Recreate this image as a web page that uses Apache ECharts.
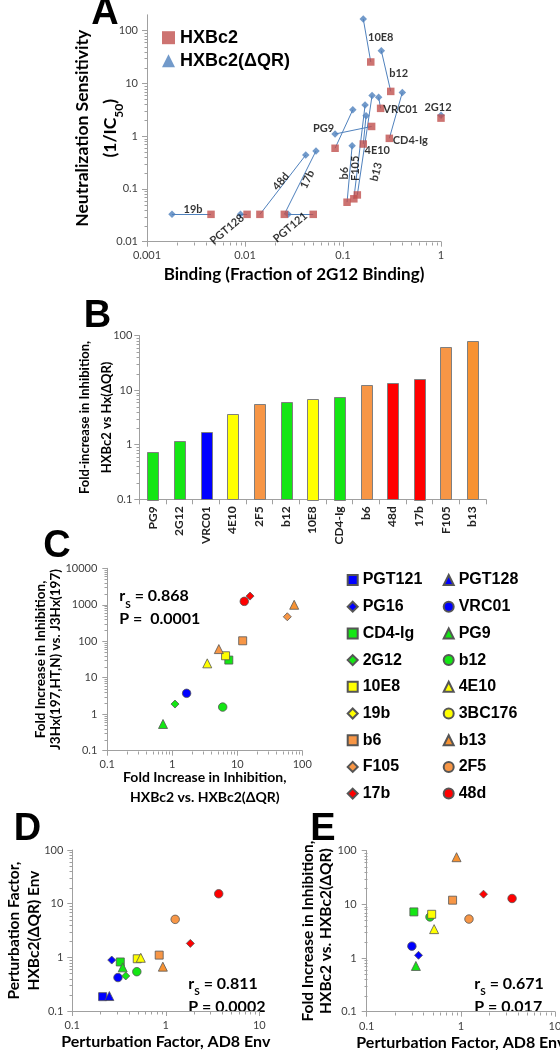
<!DOCTYPE html>
<html><head><meta charset="utf-8">
<script src="https://cdn.jsdelivr.net/npm/echarts@6.0.0/dist/echarts.min.js"></script>
<style>html,body{margin:0;padding:0;background:#fff;}#chart{width:560px;height:1050px;}</style>
</head><body><div id="chart"></div>
<script>
// ================= DATA =================
// Panel A: binding (fraction of 2G12 binding) vs neutralization sensitivity (1/IC50)
const abA      = ['19b','PGT128','48d','17b','PGT121','PG9','2F5','4E10','b6','F105','b13','VRC01','CD4-Ig','b12','10E8','2G12'];
const hxBindA  = [0.0045,0.0105,0.0142,0.0252,0.0497,0.196,0.083,0.161,0.110,0.129,0.140,0.242,0.297,0.307,0.192,1.0];
const hxSensA  = [0.033,0.033,0.033,0.033,0.033,1.53,0.59,0.71,0.056,0.065,0.077,3.37,0.91,7.06,25.5,2.2];
const dqBindA  = [0.0018,0.0090,0.0417,0.053,0.0275,0.083,0.126,0.172,0.124,0.168,0.198,0.231,0.403,0.246,0.161,1.0];
const dqSensA  = [0.033,0.033,0.44,0.525,0.033,1.1,3.18,2.45,0.66,3.9,5.9,5.45,6.76,41.8,167,2.5];
const seriesNamesA = ['HXBc2','HXBc2(ΔQR)'];

// Panel B: fold-increase in inhibition, HXBc2 vs Hx(ΔQR)
const catB  = ['PG9','2G12','VRC01','4E10','2F5','b12','10E8','CD4-Ig','b6','48d','17b','F105','b13'];
const foldB = [0.745,1.15,1.71,3.6,5.5,6.1,6.95,7.56,12.4,13.3,16.2,61.5,78];

// Panel C
const abC = ['PG9','2G12','VRC01','b12','4E10','2F5','10E8','CD4-Ig','b6','48d','17b','F105','b13'];
const xC  = [0.72,1.1,1.66,5.96,3.45,5.2,6.6,7.4,12.1,12.8,15.7,58.8,75];
const yC  = [0.54,1.9,3.74,1.57,24.8,61,40,30.5,103,1240,1730,469,1000];
const statsC = ['0.868','0.0001'];

// Panel D
const abD = ['PGT121','PGT128','PG16','VRC01','CD4-Ig','PG9','2G12','b12','10E8','4E10','b6','b13','2F5','17b','48d'];
const xD  = [0.211,0.249,0.264,0.308,0.326,0.346,0.373,0.49,0.495,0.54,0.85,0.93,1.26,1.83,3.68];
const yD  = [0.185,0.19,0.89,0.42,0.82,0.65,0.45,0.54,0.94,0.98,1.1,0.67,5.1,1.82,15.3];
const statsD = ['0.811','0.0002'];

// Panel E
const abE = ['CD4-Ig','b12','10E8','4E10','VRC01','PG16','PG9','b6','2F5','17b','48d','b13'];
const xE  = [0.317,0.47,0.49,0.52,0.302,0.355,0.333,0.817,1.22,1.74,3.5,0.9];
const yE  = [7.2,5.8,6.5,3.44,1.66,1.12,0.71,11.9,5.3,15.4,12.8,75];
const statsE = ['0.671','0.017'];

// Legend (C/D/E), two columns
const legendCol1 = ['PGT121','PG16','CD4-Ig','2G12','10E8','19b','b6','F105','17b'];
const legendCol2 = ['PGT128','VRC01','PG9','b12','4E10','3BC176','b13','2F5','48d'];

// Axis ranges / tick labels
const rangeA = {x:[0.001,1], y:[0.01,200]};
const ticksAy = [0.01,0.1,1,10,100];
const rangeB = {y:[0.1,100]};
const rangeC = {x:[0.1,100], y:[0.1,10000]};
const rangeD = {x:[0.1,10], y:[0.1,100]};
const rangeE = {x:[0.1,10], y:[0.1,100]};

// ================= STYLE =================
const FONT = 'Lato, "DejaVu Sans", sans-serif';
const AFONT = '"Liberation Sans", Arial, sans-serif';
const AX = '#a0a0a0', LAB = '#404040';
const BLUE='#0000FF', GREEN='#14E614', YEL='#FFFF00', ORG='#F79646', ORG2='#F79232', RED='#FF0000';
const STY = {
  'PGT121':['rect',BLUE], 'PGT128':['triangle',BLUE], 'PG16':['diamond',BLUE], 'VRC01':['circle',BLUE],
  'CD4-Ig':['rect',GREEN], 'PG9':['triangle',GREEN], '2G12':['diamond',GREEN], 'b12':['circle',GREEN],
  '10E8':['rect',YEL], '4E10':['triangle',YEL], '19b':['diamond',YEL], '3BC176':['circle',YEL],
  'b6':['rect',ORG], 'b13':['triangle',ORG2], 'F105':['diamond',ORG], '2F5':['circle',ORG],
  '17b':['diamond',RED], '48d':['circle',RED]
};
const ORDER = ['PGT121','PGT128','PG16','VRC01','CD4-Ig','PG9','2G12','b12','10E8','4E10','19b','3BC176','b6','b13','F105','2F5','17b','48d'];
const SIZE = {rect:8, circle:8.5, triangle:9, diamond:8};
const shapeOverrideC = {'2F5':'triangle'};
// label placement for panel A (screen offset from HXBc2 marker, rotation in degrees CCW)
const labA = {'19b':[-18,-5,0],'PGT128':[-20,15,40],'48d':[21,-33,50],'17b':[23,-35,65],'PGT121':[-23,13,40],
  'PG9':[-48,2,0],'4E10':[14,6,0],'b6':[-3,-29,90],'F105':[1.5,-30.5,90],'b13':[19,-23,75],
  'VRC01':[20,1,0],'CD4-Ig':[21,2,0],'b12':[8,-18,0],'10E8':[10,-25,0],'2G12':[-3,-11,0]};
// ECharts applies label offset in the rotated frame: convert screen offset to local offset
function localOffset(dx, dy, deg) {
  const r = deg * Math.PI / 180, c = Math.cos(r), s = Math.sin(r);
  return [c*dx - s*dy, s*dx + c*dy];
}

const fmt = v => { const n = Number(Number(v).toPrecision(6)); const l = Math.log10(n); return Math.abs(l-Math.round(l))<1e-6 ? String(n) : ''; };

function logAxis(gi, range, extra) {
  return Object.assign({
    type:'log', logBase:10, gridIndex:gi, min:range[0], max:range[1],
    axisLine:{show:true, onZero:false, lineStyle:{color:AX, width:1}},
    axisTick:{show:true, inside:false, length:5, lineStyle:{color:AX}},
    axisLabel:{color:LAB, fontFamily:FONT, fontSize:11, formatter:fmt, margin:8},
    splitLine:{show:false}, minorTick:{show:false}, minorSplitLine:{show:false},
    nameLocation:'middle', nameMoveOverlap:false
  }, extra || {});
}
function rich(size, lh, subSize) {
  return {
    t:{fontFamily:FONT, fontWeight:'bold', fontSize:size, lineHeight:lh, color:'#000'},
    s:{fontFamily:FONT, fontWeight:'bold', fontSize:subSize || Math.round(size*0.65), lineHeight:lh+5, verticalAlign:'bottom', color:'#000'}
  };
}
function minorVals(lo, hi) {
  const out = [];
  for (let e = Math.floor(Math.log10(lo)); Math.pow(10,e) < hi; e++)
    for (let m = 2; m <= 9; m++) { const v = Number((m*Math.pow(10,e)).toPrecision(3)); if (v > lo && v < hi) out.push(v); }
  return out;
}
function tickSeries(gi, xr, yr) {
  const data = [];
  if (xr) minorVals(xr[0], xr[1]).forEach(v => data.push([v, yr[0], 0]));
  minorVals(yr[0], yr[1]).forEach(v => data.push([xr ? xr[0] : 0, v, 1]));
  return {
    type:'custom', xAxisIndex:gi, yAxisIndex:gi, silent:true, clip:false, z:1, data,
    renderItem:(params, api) => {
      const cs = params.coordSys;
      const p = api.coord([api.value(0), api.value(1)]);
      if (api.value(2) === 1) {
        const x = Math.round(cs.x) + 0.5, y = Math.round(p[1]) + 0.5;
        return {type:'line', shape:{x1:x-3, y1:y, x2:x, y2:y}, style:{stroke:AX, lineWidth:1}};
      }
      const y = Math.round(cs.y + cs.height) + 0.5, x = Math.round(p[0]) + 0.5;
      return {type:'line', shape:{x1:x, y1:y, x2:x, y2:y+3}, style:{stroke:AX, lineWidth:1}};
    }
  };
}
function scatterPanel(gi, abs, xs, ys, overrides, keepEmpty) {
  return ORDER.map(name => {
    const data = [];
    abs.forEach((a,i) => {
      if (a !== name) return;
      const it = {value:[xs[i], ys[i]]};
      if (overrides && overrides[a]) { it.symbol = overrides[a]; it.symbolSize = SIZE[overrides[a]]; }
      data.push(it);
    });
    const sh = STY[name][0];
    return {type:'scatter', name, xAxisIndex:gi, yAxisIndex:gi, symbol:sh, symbolSize:SIZE[sh],
      itemStyle:{color:STY[name][1], borderColor:'#555', borderWidth:0.8, opacity:1},
      emphasis:{disabled:true}, silent:true, z:3, data};
  }).filter(s => keepEmpty || s.data.length);
}
function statText(x, y, vals, gap) {
  const b = {fontFamily:FONT, fontWeight:'bold', fontSize:16, lineHeight:20, color:'#000'};
  const s = {fontFamily:FONT, fontWeight:'bold', fontSize:10, lineHeight:26, verticalAlign:'bottom', color:'#000'};
  return {type:'text', x, y, silent:true, style:{
    text:'{b|r}{s|S}{b| = ' + vals[0] + '}\n{b|P =' + gap + vals[1] + '}', rich:{b, s}, verticalAlign:'top'}};
}
function letter(ch, x, y) {
  return {type:'text', x, y, silent:true, style:{text:ch, font:'bold 38px ' + AFONT, fill:'#000', align:'center', verticalAlign:'middle'}};
}

const chart = echarts.init(document.getElementById('chart'), null, {renderer:'canvas'});

const series = [];
// Panel A
series.push({type:'lines', coordinateSystem:'cartesian2d', xAxisIndex:0, yAxisIndex:0, silent:true, z:2,
  lineStyle:{color:'#4F81BD', width:1, opacity:1},
  data: abA.map((a,i) => ({coords:[[hxBindA[i], hxSensA[i]], [dqBindA[i], dqSensA[i]]]}))});
series.push({type:'scatter', name:seriesNamesA[1], xAxisIndex:0, yAxisIndex:0, symbol:'diamond', symbolSize:7.5,
  itemStyle:{color:'#4F81BD'}, silent:true, z:3, data: abA.map((a,i) => [dqBindA[i], dqSensA[i]])});
series.push({type:'scatter', name:seriesNamesA[0], xAxisIndex:0, yAxisIndex:0, symbol:'rect', symbolSize:7.5,
  itemStyle:{color:'#C0504D'}, silent:true, z:4,
  data: abA.map((a,i) => {
    const it = {value:[hxBindA[i], hxSensA[i]]};
    const L = labA[a];
    if (L) it.label = {show:true, position:'inside', formatter:a, offset:localOffset(L[0],L[1],L[2]), rotate:L[2],
      fontFamily:FONT, fontWeight:'bold', fontSize:11, color:'#000'};
    return it;
  })});
series.push(tickSeries(0, rangeA.x, rangeA.y));
// Panel B bars
series.push({type:'custom', xAxisIndex:1, yAxisIndex:1, silent:true, z:3,
  data: foldB.map((v,i) => [i, v]),
  renderItem:(params, api) => {
    const i = api.value(0), v = api.value(1);
    const top = api.coord([i, v]), base = api.coord([i, rangeB.y[0]]);
    const w = api.size([1, 1])[0] * 0.4;
    return {type:'rect', shape:{x:Math.round(top[0]-w/2)+0.5, y:Math.round(top[1])+0.5, width:Math.round(w), height:Math.round(base[1]-top[1])},
      style:{fill:STY[catB[i]][1], stroke:'#7f7f7f', lineWidth:1}};
  }});
series.push(tickSeries(1, null, rangeB.y));
// Panels C, D, E
series.push(...scatterPanel(2, abC, xC, yC, shapeOverrideC, true));
series.push(tickSeries(2, rangeC.x, rangeC.y));
series.push(...scatterPanel(3, abD, xD, yD, null, false));
series.push(tickSeries(3, rangeD.x, rangeD.y));
series.push(...scatterPanel(4, abE, xE, yE, null, false));
series.push(tickSeries(4, rangeE.x, rangeE.y));

const legTxt = {fontFamily:AFONT, fontWeight:'bold', fontSize:16, color:'#000', lineHeight:16};

chart.setOption({
  animation:false,
  backgroundColor:'#fff',
  grid:[
    {left:147, top:14.8, width:294, height:226.9, outerBoundsMode:'none', containLabel:false},
    {left:139.3, top:335.5, width:346.5, height:163.8, outerBoundsMode:'none', containLabel:false},
    {left:107.3, top:568.3, width:195, height:182.4, outerBoundsMode:'none', containLabel:false},
    {left:72.3, top:850, width:187, height:161, outerBoundsMode:'none', containLabel:false},
    {left:366.7, top:850.5, width:188.3, height:161.2, outerBoundsMode:'none', containLabel:false}
  ],
  xAxis:[
    logAxis(0, rangeA.x, {name:'Binding (Fraction of 2G12 Binding)', nameGap:23,
      nameTextStyle:{fontFamily:FONT, fontWeight:'bold', fontSize:17, lineHeight:20, color:'#000'}}),
    {type:'category', gridIndex:1, data:catB, boundaryGap:true,
      axisLine:{show:true, onZero:false, lineStyle:{color:AX}},
      axisTick:{show:true, length:5, interval:0, lineStyle:{color:AX}},
      axisLabel:{rotate:90, interval:0, margin:7, fontFamily:FONT, fontWeight:'bold', fontSize:12, color:'#222'},
      splitLine:{show:false}},
    logAxis(2, rangeC.x, {name:'Fold Increase in Inhibition,\nHXBc2 vs. HXBc2(ΔQR)', nameGap:17,
      nameTextStyle:{fontFamily:FONT, fontWeight:'bold', fontSize:14, lineHeight:20, color:'#000'}}),
    logAxis(3, rangeD.x, {name:'Perturbation Factor, AD8 Env', nameGap:22,
      axisLabel:{color:LAB, fontFamily:FONT, fontSize:11, formatter:fmt, margin:9},
      nameTextStyle:{fontFamily:FONT, fontWeight:'bold', fontSize:16, lineHeight:18, color:'#000'}}),
    logAxis(4, rangeE.x, {name:'Perturbation Factor, AD8 Env', nameGap:22,
      axisLabel:{color:LAB, fontFamily:FONT, fontSize:11, formatter:fmt, margin:9},
      nameTextStyle:{fontFamily:FONT, fontWeight:'bold', fontSize:16, lineHeight:18, color:'#000'}})
  ],
  yAxis:[
    logAxis(0, rangeA.y, {name:'{t|Neutralization Sensitivity}\n{t|(1/IC}{s|50}{t|)}', nameGap:22,
      axisTick:{show:true, length:5, lineStyle:{color:AX}, customValues:ticksAy},
      axisLabel:{color:LAB, fontFamily:FONT, fontSize:11, formatter:fmt, margin:9, customValues:ticksAy},
      nameTextStyle:{rich:rich(17.5, 25, 12)}}),
    logAxis(1, rangeB.y, {name:'{t|Fold-increase in Inhibition,}\n{t|HXBc2 vs Hx(ΔQR)}', nameGap:22,
      axisLabel:{color:LAB, fontFamily:FONT, fontSize:11, formatter:fmt, margin:7},
      nameTextStyle:{rich:rich(13, 21.5)}}),
    logAxis(2, rangeC.y, {name:'{t|Fold Increase in Inhibition,}\n{t|J3Hx(197,HT,N) vs. J3Hx(197)}', nameGap:44,
      axisLabel:{color:LAB, fontFamily:FONT, fontSize:11, formatter:fmt, margin:10},
      nameTextStyle:{rich:rich(13.5, 15.3)}}),
    logAxis(3, rangeD.y, {name:'{t|Perturbation Factor,}\n{t|HXBc2(ΔQR) Env}', nameGap:28,
      axisLabel:{color:LAB, fontFamily:FONT, fontSize:11, formatter:fmt, margin:9},
      nameTextStyle:{rich:rich(15.5, 20)}}),
    logAxis(4, rangeE.y, {name:'{t|Fold Increase in Inhibition,}\n{t|HXBc2 vs. HXBc2(ΔQR)}', nameGap:32,
      axisLabel:{color:LAB, fontFamily:FONT, fontSize:11, formatter:fmt, margin:10},
      nameTextStyle:{rich:rich(15.5, 18)}})
  ],
  legend:[
    {orient:'vertical', left:162, top:28.7, padding:0, itemWidth:13, itemHeight:13, itemGap:5,
      selectedMode:false, textStyle:{fontFamily:AFONT, fontWeight:'bold', fontSize:18, color:'#000', lineHeight:18},
      data:[{name:seriesNamesA[0], icon:'rect'}, {name:seriesNamesA[1], icon:'triangle'}]},
    {orient:'vertical', left:346.7, top:572, padding:0, itemWidth:10, itemHeight:10, itemGap:10.7,
      selectedMode:false, textStyle:legTxt, data:legendCol1},
    {orient:'vertical', left:442.7, top:572, padding:0, itemWidth:10, itemHeight:10, itemGap:10.7,
      selectedMode:false, textStyle:legTxt, data:legendCol2}
  ],
  graphic:[
    letter('A', 105, 14), letter('B', 97.5, 316.7), letter('C', 57, 546.5), letter('D', 27.5, 830), letter('E', 323, 830),
    statText(119.3, 583.3, statsC, '  '),
    statText(188.3, 970.7, statsD, ' '),
    statText(474.3, 970.7, statsE, ' ')
  ],
  series
});
</script></body></html>
